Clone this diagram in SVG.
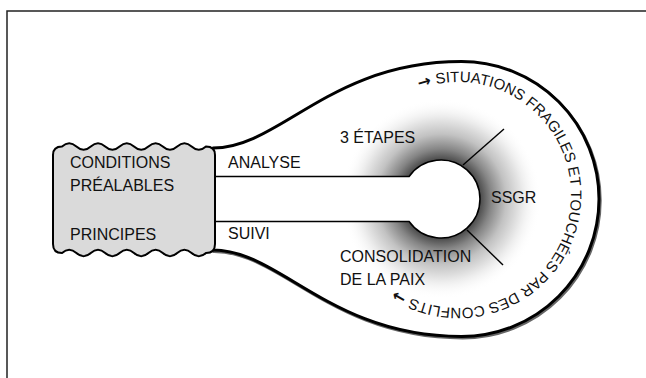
<svg xmlns="http://www.w3.org/2000/svg" width="646" height="378" viewBox="0 0 646 378">
  <style>
    .lbl { font-family: "Liberation Sans", Arial, sans-serif; font-size: 16px; fill: #111; }
    .arc { font-family: "Liberation Sans", Arial, sans-serif; font-size: 15px; fill: #111; }
    .arw { font-family: "DejaVu Sans", sans-serif; font-weight: bold; font-size: 16px; }
    .outline { fill: #fff; stroke: #000; stroke-width: 3; stroke-linejoin: round; }
    .thin { stroke: #000; stroke-width: 1.4; fill: none; }
  </style>
  <defs>
    <radialGradient id="shade" cx="441" cy="199" r="100" gradientUnits="userSpaceOnUse">
      <stop offset="0.39" stop-color="#4a4a4a"/>
      <stop offset="0.5" stop-color="#858585"/>
      <stop offset="0.65" stop-color="#c2c2c2"/>
      <stop offset="0.82" stop-color="#ebebeb"/>
      <stop offset="1" stop-color="#fff" stop-opacity="0"/>
    </radialGradient>
    <path id="ring" d="M419.35,88.81 A113,113 0 1,1 496.65,301.19 A113,113 0 1,1 419.35,88.81"/>
  </defs>

  <path d="M7,378 V11 H646" fill="none" stroke="#222" stroke-width="1.5"/>

  <g id="bulb">
    <path d="M213,148 C280,148 330,61.5 461.5,61.5 A137.5,137.5 0 0,1 461.5,336.5 C330,336.5 280,250 213,250 Z" fill="none" stroke="#666" stroke-width="3" transform="translate(1.2,1.5)"/>
    <path class="outline" d="M213,148 C280,148 330,61.5 461.5,61.5 A137.5,137.5 0 0,1 461.5,336.5 C330,336.5 280,250 213,250 Z"/>
    <circle cx="441" cy="199" r="100" fill="url(#shade)"/>
    <text class="arc"><textPath href="#ring"><tspan class="arw">→</tspan> SITUATIONS FRAGILES ET TOUCHÉES PAR DES CONFLITS <tspan class="arw">→</tspan></textPath></text>
  </g>

  <g id="hub">
    <path d="M213,176.5 L409.1,176.5 A39,39 0 1,1 409.1,221.5 L213,221.5" fill="#fff" stroke="#000" stroke-width="1.5"/>
  </g>

  <g id="connectors">
    <line class="thin" x1="463" y1="165" x2="504" y2="129"/>
    <line class="thin" x1="467" y1="230" x2="503" y2="265"/>
  </g>

  <g id="box">
    <path d="M53,155 Q53,146.5 62,146.5 Q69.2,140 76.4,146.5 T90.8,146.5 T105.2,146.5 T119.6,146.5 T134,146.5 T148.4,146.5 T162.8,146.5 T177.2,146.5 T191.6,146.5 T206,146.5 Q215,146.5 215,155 L215,244 Q215,253 206,253 Q198.8,259.5 191.6,253 T177.2,253 T162.8,253 T148.4,253 T134,253 T119.6,253 T105.2,253 T90.8,253 T76.4,253 T62,253 Q53,253 53,244 Z" fill="#dadada" stroke="#000" stroke-width="2"/>
    <text class="lbl" x="70" y="168">CONDITIONS</text>
    <text class="lbl" x="70" y="191">PRÉALABLES</text>
    <text class="lbl" x="70" y="240">PRINCIPES</text>
  </g>

  <g id="labels">
    <text class="lbl" x="228" y="168">ANALYSE</text>
    <text class="lbl" x="228" y="239">SUIVI</text>
    <text class="lbl" x="340" y="143">3 ÉTAPES</text>
    <text class="lbl" x="340" y="262">CONSOLIDATION</text>
    <text class="lbl" x="340" y="285">DE LA PAIX</text>
    <text class="lbl" x="491" y="203">SSGR</text>
  </g>
</svg>
